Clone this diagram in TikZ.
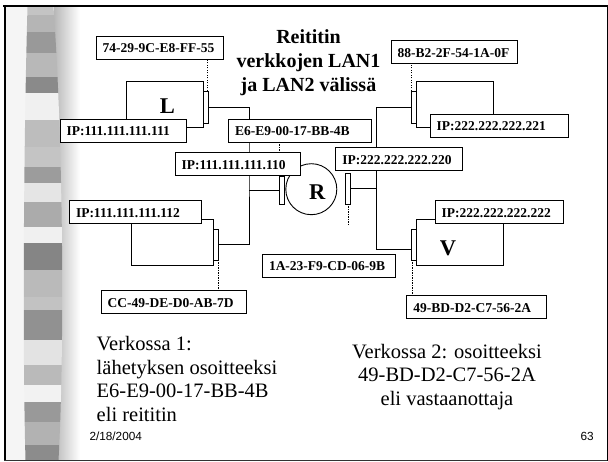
\documentclass[tikz,border=0pt]{standalone}
\usepackage{fontspec}
\setmainfont{Liberation Serif}
\newfontfamily\arialfont{Liberation Sans}
\newcommand{\boxtxt}[2]{\makebox[#1pt][l]{\hspace{6.7pt}#2}}
\begin{document}
\begin{tikzpicture}[x=1pt,y=-1pt,
  box/.style={draw=black, fill=white, line width=0.9pt, inner xsep=0pt, inner ysep=0pt,
    minimum height=23pt, text height=10pt, text depth=0pt, anchor=north west, outer sep=0pt,
    font=\bfseries\fontsize{13.5}{16}\selectfont},
  card/.style={draw, fill=white, line width=0.8pt, minimum width=5pt, inner sep=0pt, outer sep=0pt},
  body/.style={draw, fill=white, line width=0.9pt, inner sep=0pt, outer sep=0pt},
  wire/.style={line width=0.9pt},
  dotline/.style={line width=0.8pt, dash pattern=on 1.2pt off 1.3pt},
  big/.style={font=\bfseries\fontsize{22.5}{26}\selectfont, inner sep=0pt, anchor=base},
  ttl/.style={font=\bfseries\fontsize{20}{24}\selectfont, inner sep=0pt, anchor=base},
  txt/.style={font=\fontsize{20.5}{24}\selectfont, inner sep=0pt},
  small/.style={font=\arialfont\fontsize{11.8}{14}\selectfont, inner sep=0pt},
]
\useasboundingbox (0,0) rectangle (608,462);
\fill[white] (0,0) rectangle (608,462);
% left decoration
\fill[black!4] (5,7) rectangle (30,460);
\shade[left color=black!28, right color=white] (54,7) rectangle (80,460);
\begin{scope}
\clip (27.5,7) .. controls (23.5,150) and (22.5,350) .. (25.5,460) -- (58.5,460) .. controls (64.5,350) and (63.5,150) .. (53.5,7) -- cycle;
\foreach \a/\b/\c in {7/15/23,15/32/29,32/53/40,53/77/28,77/93/46,93/120/6,120/147/26,147/167/23,167/183/39,183/202/10,202/227/33,227/243/6,243/270/48,270/297/27,297/310/24,310/340/43,340/365/11,365/385/27,385/402/5,402/422/40,422/445/30,445/461/45}
  \fill[black!\c] (15,\a) rectangle (70,\b);
\end{scope}
% frame
\draw[line width=2.5pt] (3,6) -- (608,6);
\draw[line width=2pt] (4.5,5) -- (4.5,461);
\draw[line width=1.5pt, black!80] (4,460.5) -- (608,460.5);
\draw[line width=1pt] (607,6) -- (607,461);

% coordinates of buses
\coordinate (busL) at (249,150);
\coordinate (busR) at (376.7,150);
\coordinate (freeR) at (348.2,226);

% computer bodies and router
\node[body, minimum width=76.6pt, minimum height=45.6pt] (bL) at (165,104.5) {};
\node[body, minimum width=81.6pt, minimum height=45.7pt] (bLL) at (172.5,242.15) {};
\node[body, minimum width=77pt, minimum height=45.6pt] (bU) at (454.8,104.5) {};
\node[body, minimum width=86.6pt, minimum height=45.7pt] (bV) at (460,242.15) {};
\node[draw, circle, fill=white, minimum size=51pt, inner sep=0pt, line width=0.9pt] (R) at (311.3,189.2) {};

% network cards
\node[card, minimum height=32.3pt] (cL) at (205.8,107.15) {};
\node[card, minimum height=30.7pt] (cLL) at (215.8,244.65) {};
\node[card, minimum height=32.3pt] (cU) at (413.8,107.15) {};
\node[card, minimum height=30.7pt] (cV) at (414.2,244.65) {};
\node[card, minimum height=27.3pt] (cR1) at (281.8,190.35) {};
\node[card, minimum height=30.7pt] (cR2) at (348.2,188.65) {};

% wires
\draw[wire] (cL.east) -| (busL) |- (cLL.east);
\draw[wire] (cR1.west) -- (cR1.west -| busL);
\draw[wire] (cU.west) -| (busR) |- ([yshift=-4.6pt]cV.west);
\draw[wire] (cR2.east) -- (cR2.east -| busR);

% address boxes
\node[box] (mac1) at (96,36) {\boxtxt{127.3}{74-29-9C-E8-FF-55}};
\node[box] (ip1) at (60,119) {\boxtxt{126.7}{IP:111.111.111.111}};
\node[box] (macR1) at (228.3,119) {\boxtxt{142.7}{E6-E9-00-17-BB-4B}};
\node[box] (ipR1) at (175,152.7) {\boxtxt{125.7}{IP:111.111.111.110}};
\node[box] (ip2) at (69.3,200.7) {\boxtxt{131.7}{IP:111.111.111.112}};
\node[box] (mac2) at (101,290.7) {\boxtxt{145.7}{CC-49-DE-D0-AB-7D}};
\node[box] (macR2) at (262.3,254) {\boxtxt{132.7}{1A-23-F9-CD-06-9B}};
\node[box] (mac3) at (391,40.7) {\boxtxt{126.3}{88-B2-2F-54-1A-0F}};
\node[box] (ip3) at (430,114.3) {\boxtxt{138.3}{IP:222.222.222.221}};
\node[box] (ipR2) at (335.7,147.7) {\boxtxt{127}{IP:222.222.222.220}};
\node[box] (ip4) at (435,200.7) {\boxtxt{128.3}{IP:222.222.222.222}};
\node[box] (mac4) at (406.7,295.7) {\boxtxt{139.3}{49-BD-D2-C7-56-2A}};

% dotted address links
\draw[dotline] ([xshift=-0.6pt]cL.north east) -- ([xshift=-0.6pt]cL.north east |- mac1.south);
\draw[dotline] ([xshift=0.4pt]cU.north west) -- ([xshift=0.4pt]cU.north west |- mac3.south);
\draw[dotline] (cLL.south east) -- (cLL.south east |- mac2.north);
\draw[dotline] ([xshift=0.4pt]cV.south west) -- ([xshift=0.4pt]cV.south west |- mac4.north);
\draw[dotline] (cR2.south) -- (freeR);
\draw[dotline] (cR1.north west) -- (cR1.north west |- ipR1.south);
\draw[dotline] (macR1.south -| cR1.north west) -- (ipR1.north -| cR1.north west);

% letters
\node[big] (tL) at (167.5,113.3) {L};
\node[big] (tR) at (317.3,200) {R};
\node[big] (tV) at (448,255.3) {V};

% title
\node[ttl] (t1) at (308.5,43.3) {Reititin};
\node[ttl] (t2) at (308.5,67.7) {verkkojen LAN1};
\node[ttl] (t3) at (308.5,92) {ja LAN2 välissä};

% explanations
\node[txt, anchor=base west] (l1) at (96.5,350.7) {Verkossa 1:};
\node[txt, anchor=base west] (l2) at (96.5,374.2) {lähetyksen osoitteeksi};
\node[txt, anchor=base west] (l3) at (96.5,397.7) {E6-E9-00-17-BB-4B};
\node[txt, anchor=base west] (l4) at (96.5,421.1) {eli reititin};
\node[txt, anchor=base] (r1) at (447,358.3) {Verkossa 2: osoitteeksi};
\node[txt, anchor=base] (r2) at (447,381.7) {49-BD-D2-C7-56-2A};
\node[txt, anchor=base] (r3) at (447,405.1) {eli vastaanottaja};

% footer
\node[small, anchor=base west] (date) at (89.3,440.7) {2/18/2004};
\node[small, anchor=base east] (page) at (594,440.7) {63};
\end{tikzpicture}
\end{document}
